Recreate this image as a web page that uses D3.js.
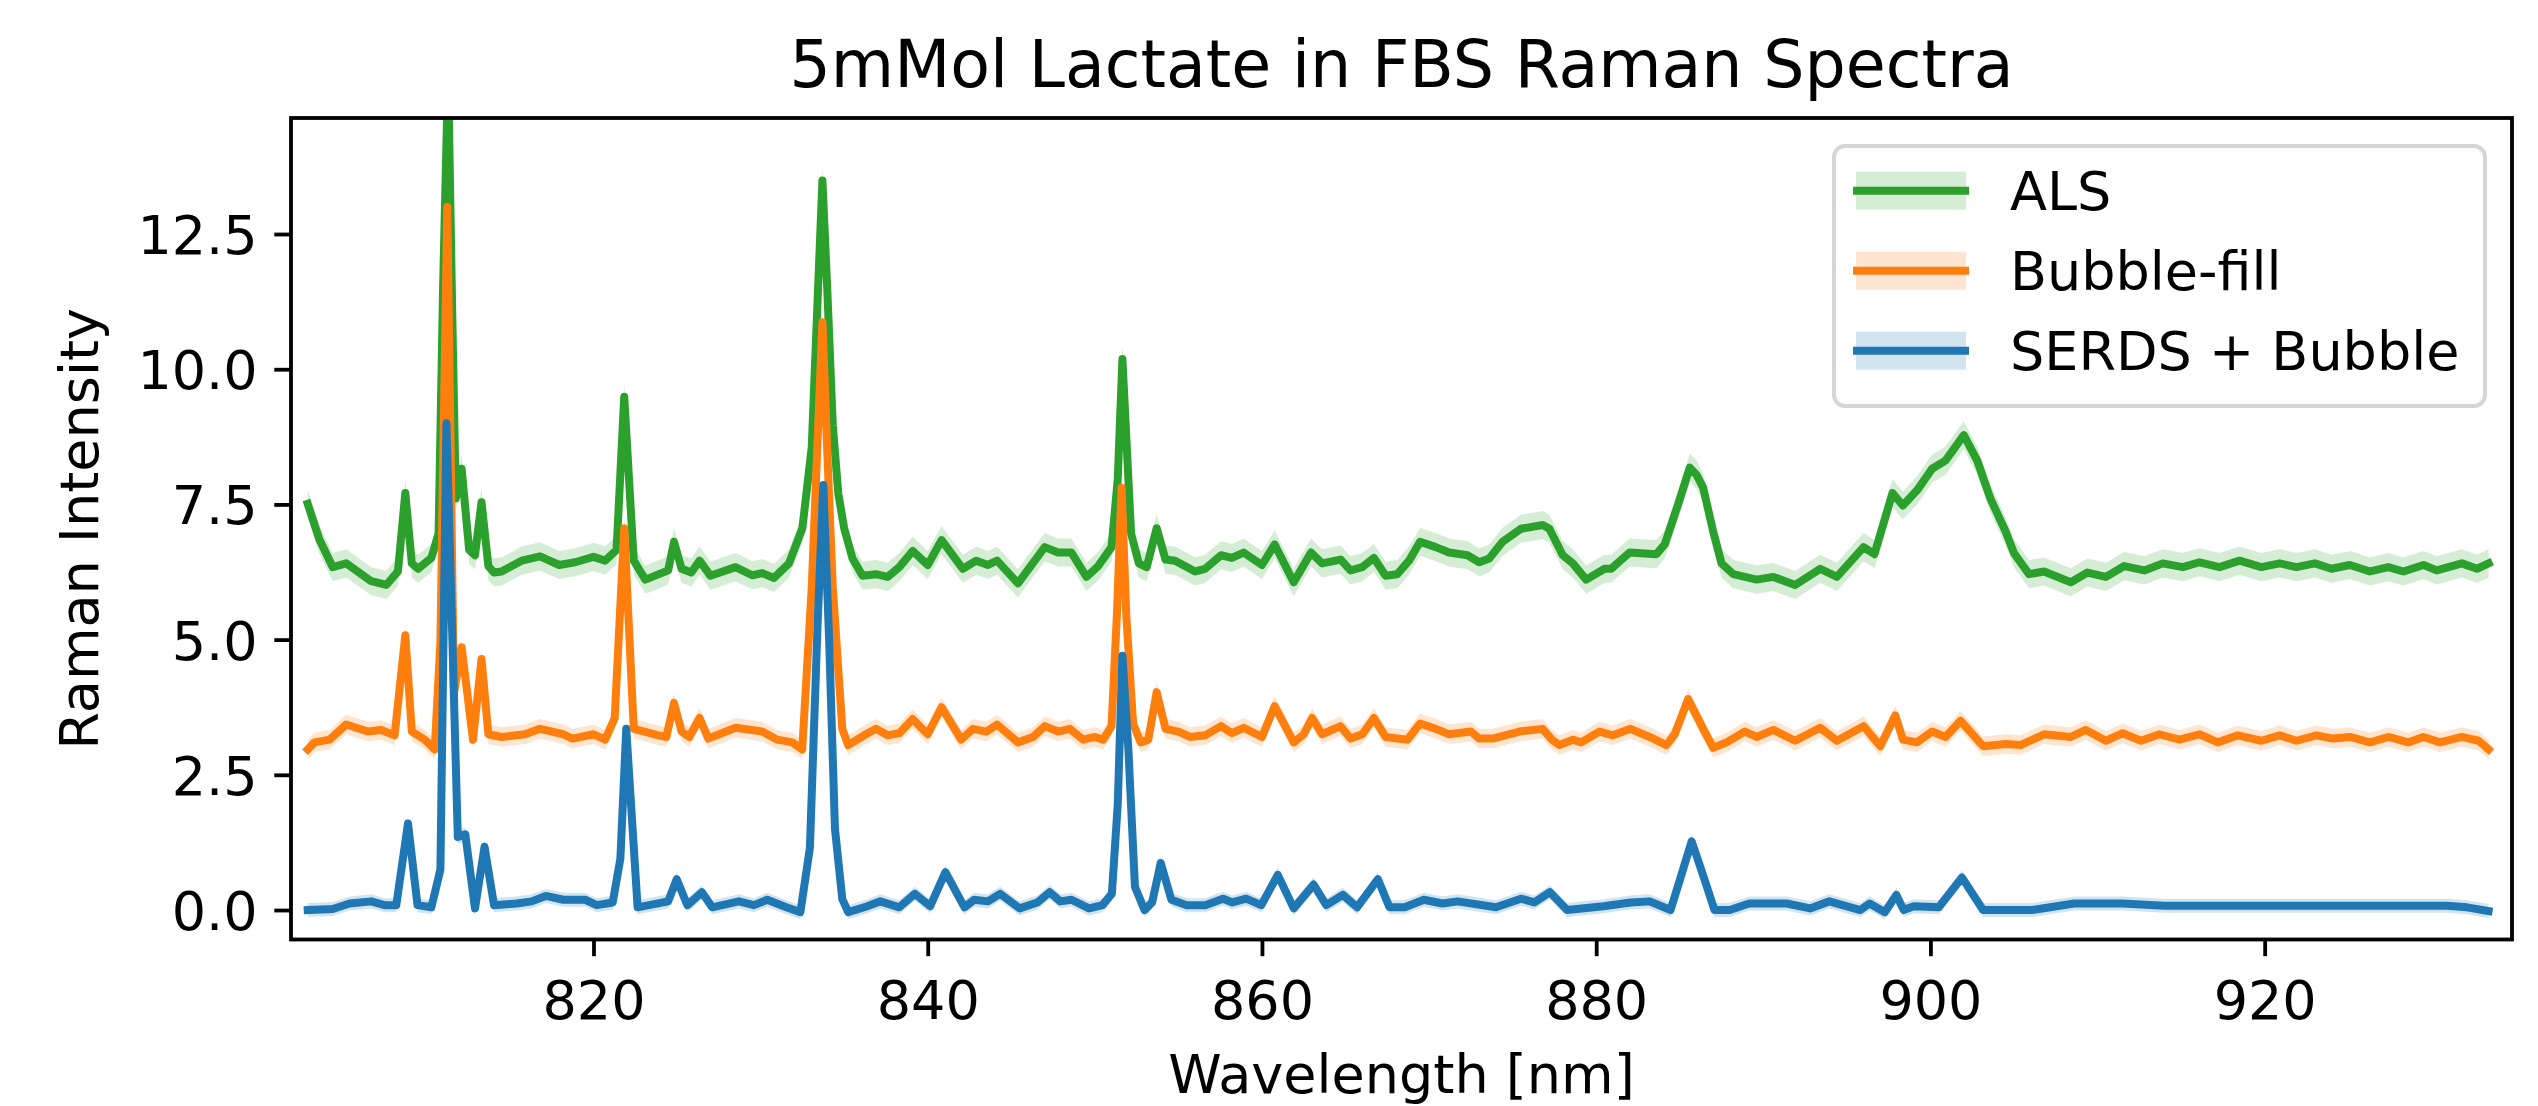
<!DOCTYPE html>
<html>
<head>
<meta charset="utf-8">
<script src="https://cdnjs.cloudflare.com/ajax/libs/d3/7.8.5/d3.min.js"></script>
<style>
  body { margin: 0; background: #fff; }
  svg { display: block; font-family: "DejaVu Sans", sans-serif; }
</style>
</head>
<body>
<svg width="2538" height="1106"></svg>
<script>
// spectra: [wavelength nm, intensity]
var als = [[802.9,7.51],[803.6,6.85],[804.4,6.34],[805.2,6.41],[806.7,6.08],[807.6,6.01],[808.3,6.26],[808.74,7.71],[809.13,6.41],[809.5,6.31],[810.3,6.51],[810.73,6.96],[811.0,11.5],[811.3,15.5],[811.55,11.0],[811.76,7.61],[812.11,8.16],[812.56,6.66],[812.91,6.56],[813.3,7.54],[813.71,6.36],[814.05,6.24],[814.5,6.26],[815.7,6.46],[816.8,6.54],[817.95,6.38],[818.9,6.43],[820.0,6.53],[820.7,6.46],[821.38,6.66],[821.84,9.49],[822.41,6.46],[823.1,6.11],[824.47,6.28],[824.82,6.81],[825.27,6.31],[825.85,6.24],[826.35,6.46],[827.0,6.18],[828.5,6.34],[829.5,6.19],[830.1,6.23],[830.8,6.14],[831.7,6.41],[832.5,7.06],[833.06,8.56],[833.4,11.2],[833.7,13.49],[834.0,11.4],[834.32,8.96],[834.65,7.7],[835.0,7.06],[835.5,6.5],[836.1,6.18],[836.9,6.21],[837.6,6.16],[838.3,6.34],[839.1,6.64],[840.0,6.38],[840.83,6.84],[842.1,6.31],[842.9,6.46],[843.6,6.38],[844.15,6.46],[845.4,6.04],[847.0,6.71],[847.8,6.61],[848.6,6.61],[849.5,6.16],[850.2,6.36],[851.0,6.71],[851.37,7.96],[851.65,10.19],[852.17,6.96],[852.63,6.41],[853.1,6.34],[853.7,7.06],[854.23,6.48],[854.8,6.46],[856.0,6.26],[856.6,6.31],[857.55,6.56],[858.2,6.51],[858.9,6.61],[860.0,6.38],[860.76,6.76],[861.9,6.06],[862.94,6.61],[863.6,6.41],[864.7,6.48],[865.3,6.28],[866.0,6.34],[866.7,6.51],[867.4,6.18],[868.1,6.21],[868.8,6.46],[869.46,6.81],[870.4,6.71],[871.2,6.61],[872.3,6.56],[873.0,6.43],[873.6,6.50],[874.4,6.81],[875.5,7.05],[876.8,7.12],[877.2,7.05],[878.0,6.56],[878.6,6.41],[879.4,6.11],[880.5,6.31],[880.9,6.31],[882.0,6.61],[883.6,6.58],[884.1,6.76],[884.9,7.5],[885.6,8.18],[886.0,8.05],[886.4,7.81],[887.0,7.0],[887.5,6.41],[888.2,6.21],[889.6,6.11],[890.6,6.16],[891.9,6.01],[893.4,6.31],[894.4,6.16],[896.0,6.71],[896.65,6.58],[897.73,7.71],[898.35,7.48],[899.2,7.76],[900.1,8.16],[900.9,8.31],[902.0,8.78],[902.8,8.31],[903.6,7.6],[904.5,7.0],[905.0,6.6],[905.9,6.21],[906.8,6.26],[908.4,6.06],[909.4,6.24],[910.5,6.16],[911.6,6.36],[912.8,6.28],[913.9,6.41],[915.1,6.34],[916.1,6.43],[917.3,6.34],[918.5,6.46],[919.8,6.34],[920.9,6.41],[921.9,6.34],[923.0,6.41],[924.0,6.31],[925.1,6.38],[926.3,6.26],[927.4,6.34],[928.3,6.26],[929.5,6.38],[930.3,6.28],[931.8,6.41],[932.7,6.31],[933.4,6.41]];

var bubbleFill = [[802.9,2.97],[803.3,3.10],[804.2,3.15],[805.2,3.43],[806.5,3.30],[807.3,3.33],[808.1,3.23],[808.74,5.08],[809.13,3.30],[809.9,3.15],[810.5,2.97],[810.84,4.96],[811.25,13.0],[811.65,4.00],[812.11,4.86],[812.79,3.15],[813.3,4.64],[813.71,3.25],[814.5,3.20],[815.9,3.25],[816.8,3.35],[818.2,3.25],[818.75,3.17],[820.0,3.25],[820.7,3.15],[821.27,3.55],[821.84,7.06],[822.41,3.35],[823.9,3.23],[824.36,3.20],[824.82,3.83],[825.27,3.30],[825.73,3.20],[826.35,3.55],[826.87,3.17],[828.5,3.37],[830.1,3.30],[831.0,3.15],[831.9,3.10],[832.49,2.97],[833.06,5.96],[833.4,8.6],[833.7,10.87],[834.0,8.4],[834.32,5.96],[834.89,3.35],[835.24,3.05],[836.3,3.25],[836.9,3.35],[837.6,3.23],[838.3,3.27],[839.1,3.53],[840.0,3.25],[840.83,3.75],[842.0,3.15],[842.7,3.35],[843.5,3.30],[844.15,3.43],[845.4,3.10],[846.3,3.20],[847.0,3.40],[847.8,3.30],[848.5,3.35],[849.3,3.15],[850.0,3.20],[850.5,3.15],[851.0,3.40],[851.32,5.46],[851.6,7.81],[851.88,5.46],[852.29,3.45],[852.74,3.10],[853.2,3.15],[853.7,4.03],[854.23,3.35],[855.0,3.30],[855.7,3.20],[856.6,3.23],[857.55,3.40],[858.2,3.27],[858.9,3.37],[860.0,3.20],[860.76,3.77],[861.9,3.10],[862.5,3.25],[863.0,3.55],[863.6,3.25],[864.7,3.40],[865.3,3.17],[866.0,3.25],[866.7,3.55],[867.4,3.20],[868.7,3.15],[869.46,3.45],[870.4,3.35],[871.2,3.25],[872.5,3.30],[873.0,3.17],[873.8,3.17],[875.4,3.30],[876.8,3.35],[877.35,3.15],[877.8,3.05],[878.6,3.15],[879.1,3.10],[880.2,3.30],[881.0,3.23],[882.05,3.35],[883.2,3.20],[884.2,3.05],[884.7,3.25],[885.5,3.90],[886.4,3.35],[887.0,3.00],[887.8,3.10],[888.9,3.30],[889.6,3.20],[890.6,3.33],[891.9,3.13],[893.4,3.37],[894.4,3.13],[896.0,3.40],[897.0,3.03],[897.9,3.60],[898.35,3.15],[899.2,3.10],[900.1,3.30],[900.9,3.20],[901.8,3.50],[903.15,3.03],[904.5,3.07],[905.4,3.05],[906.8,3.25],[908.4,3.20],[909.3,3.33],[910.5,3.13],[911.5,3.27],[912.6,3.13],[913.7,3.25],[914.9,3.15],[916.1,3.25],[917.2,3.10],[918.4,3.23],[919.8,3.13],[920.9,3.23],[921.9,3.13],[923.1,3.23],[924.1,3.17],[925.1,3.20],[926.3,3.10],[927.4,3.20],[928.6,3.10],[929.5,3.20],[930.5,3.10],[931.8,3.20],[932.8,3.13],[933.4,2.97]];

var serdsBubble = [[802.9,0.0],[804.4,0.02],[805.4,0.12],[806.7,0.16],[807.5,0.09],[808.2,0.09],[808.9,1.60],[809.47,0.09],[810.3,0.05],[810.84,0.75],[811.2,9.0],[811.65,3.95],[811.88,1.35],[812.33,1.40],[812.91,0.03],[813.48,1.17],[814.05,0.09],[815.4,0.12],[816.3,0.16],[817.15,0.26],[818.2,0.19],[819.5,0.19],[820.2,0.09],[821.15,0.14],[821.61,0.95],[821.96,3.35],[822.64,0.05],[824.47,0.16],[824.98,0.57],[825.62,0.09],[826.49,0.33],[827.1,0.05],[828.7,0.16],[829.6,0.09],[830.4,0.19],[831.46,0.06],[832.38,-0.04],[832.95,1.15],[833.4,5.2],[833.75,7.86],[834.1,5.0],[834.45,1.5],[834.89,0.2],[835.24,-0.04],[836.3,0.06],[837.17,0.16],[838.3,0.05],[839.23,0.30],[840.15,0.07],[841.06,0.70],[842.2,0.05],[842.78,0.19],[843.6,0.16],[844.33,0.30],[845.5,0.03],[846.56,0.14],[847.3,0.33],[847.93,0.16],[848.6,0.19],[849.65,0.03],[850.46,0.09],[851.02,0.30],[851.37,1.95],[851.65,4.70],[852.01,2.95],[852.4,0.43],[852.97,0.0],[853.43,0.14],[853.94,0.87],[854.58,0.19],[855.5,0.09],[856.6,0.09],[857.67,0.21],[858.24,0.14],[859.05,0.21],[859.96,0.09],[860.95,0.65],[861.9,0.03],[863.09,0.47],[863.85,0.09],[864.84,0.28],[865.69,0.05],[866.94,0.57],[867.63,0.05],[868.54,0.05],[869.69,0.19],[870.8,0.12],[871.7,0.16],[874.0,0.05],[875.5,0.21],[876.3,0.14],[877.23,0.33],[878.26,0.0],[880.44,0.07],[882.05,0.14],[883.2,0.16],[884.45,0.0],[885.0,0.55],[885.71,1.27],[886.4,0.64],[887.08,0.0],[888.0,0.0],[889.15,0.12],[891.4,0.12],[892.8,0.03],[893.95,0.16],[895.8,0.0],[896.36,0.12],[897.27,-0.04],[897.96,0.28],[898.4,0.0],[899.0,0.07],[900.5,0.05],[901.89,0.60],[903.15,0.0],[906.1,0.0],[908.6,0.12],[911.5,0.12],[914.0,0.08],[920.4,0.08],[930.9,0.08],[932.1,0.05],[933.4,-0.02]];

var seriesNames = ["ALS", "Bubble-fill", "SERDS + Bubble"];
var seriesColors = ["#2ca02c", "#ff7f0e", "#1f77b4"];
var seriesSpread = [0.26, 0.18, 0.13];   // half width of the shaded band
var xTicks = [820, 840, 860, 880, 900, 920];
var yTicks = [0, 2.5, 5, 7.5, 10, 12.5];

var svg = d3.select("svg");
var plotLeft = 291, plotRight = 2512, plotTop = 118, plotBottom = 939.5;
var lineWidth = 8;

var x = d3.scaleLinear().domain([801.9, 934.8]).range([plotLeft, plotRight]);
var y = d3.scaleLinear().domain([-0.545, 14.645]).range([plotBottom, plotTop]);

svg.append("defs").append("clipPath")
    .attr("id", "plot-clip")
  .append("rect")
    .attr("x", plotLeft).attr("y", plotTop)
    .attr("width", plotRight - plotLeft).attr("height", plotBottom - plotTop);

var plot = svg.append("g").attr("clip-path", "url(#plot-clip)");
var allSeries = [als, bubbleFill, serdsBubble];

// bands go under every line, like fill_between in matplotlib
allSeries.forEach(function(data, i) {
    var band = d3.area()
        .x(function(d) { return x(d[0]); })
        .y0(function(d) { return y(d[1] - seriesSpread[i]); })
        .y1(function(d) { return y(d[1] + seriesSpread[i]); });
    plot.append("path")
        .datum(data)
        .attr("d", band)
        .attr("fill", seriesColors[i])
        .attr("fill-opacity", 0.2);
});

allSeries.forEach(function(data, i) {
    var line = d3.line()
        .x(function(d) { return x(d[0]); })
        .y(function(d) { return y(d[1]); });
    plot.append("path")
        .datum(data)
        .attr("d", line)
        .attr("fill", "none")
        .attr("stroke", seriesColors[i])
        .attr("stroke-width", lineWidth)
        .attr("stroke-linejoin", "round")
        .attr("stroke-linecap", "square");
});

// axes
var xAxis = svg.append("g")
    .attr("transform", "translate(0," + plotBottom + ")")
    .call(d3.axisBottom(x).tickValues(xTicks).tickSize(16.7).tickPadding(16.7));
var yAxis = svg.append("g")
    .attr("transform", "translate(" + plotLeft + ",0)")
    .call(d3.axisLeft(y).tickValues(yTicks).tickSize(16.7).tickPadding(16.7).tickFormat(d3.format(".1f")));

[xAxis, yAxis].forEach(function(ax) {
    ax.select(".domain").remove();
    ax.selectAll(".tick line").attr("stroke", "#000").attr("stroke-width", 3.8);
    ax.selectAll(".tick text")
        .attr("fill", "#000")
        .style("font-size", "54px")
        .style("font-family", "DejaVu Sans");
});
xAxis.selectAll(".tick text").attr("dy", null).attr("y", 1019 - plotBottom);
yAxis.selectAll(".tick text").attr("dy", "0.36em");

svg.append("rect")
    .attr("x", plotLeft).attr("y", plotTop)
    .attr("width", plotRight - plotLeft).attr("height", plotBottom - plotTop)
    .attr("fill", "none")
    .attr("stroke", "#000")
    .attr("stroke-width", 3.8);

// labels
svg.append("text")
    .attr("x", (plotLeft + plotRight) / 2).attr("y", 87)
    .attr("text-anchor", "middle")
    .style("font-size", "65px")
    .text("5mMol Lactate in FBS Raman Spectra");

svg.append("text")
    .attr("x", (plotLeft + plotRight) / 2).attr("y", 1093)
    .attr("text-anchor", "middle")
    .style("font-size", "54px")
    .text("Wavelength [nm]");

svg.append("text")
    .attr("transform", "translate(98," + (plotTop + plotBottom) / 2 + ") rotate(-90)")
    .attr("text-anchor", "middle")
    .style("font-size", "54px")
    .text("Raman Intensity");

// legend
var legend = svg.append("g").attr("class", "legend");
legend.append("rect")
    .attr("x", 1834).attr("y", 146)
    .attr("width", 651).attr("height", 260)
    .attr("rx", 11).attr("ry", 11)
    .attr("fill", "#fff").attr("fill-opacity", 0.8)
    .attr("stroke", "#cccccc").attr("stroke-opacity", 0.8)
    .attr("stroke-width", 4);

seriesNames.forEach(function(name, i) {
    var cy = 190.7 + i * 80;
    legend.append("rect")
        .attr("x", 1856).attr("y", cy - 19)
        .attr("width", 110).attr("height", 38)
        .attr("fill", seriesColors[i]).attr("fill-opacity", 0.2);
    legend.append("line")
        .attr("x1", 1853).attr("x2", 1969)
        .attr("y1", cy).attr("y2", cy)
        .attr("stroke", seriesColors[i])
        .attr("stroke-width", lineWidth);
    legend.append("text")
        .attr("x", 2010).attr("y", cy + 19.5)
        .style("font-size", "54px")
        .text(name);
});
</script>
</body>
</html>
